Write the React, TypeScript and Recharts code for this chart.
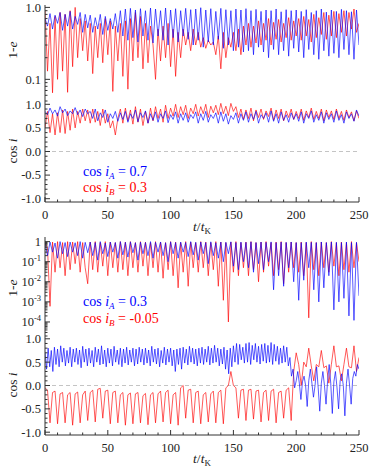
import React from "react";
import { LineChart, Line, XAxis, YAxis, ReferenceLine } from "recharts";

const FONT = "'Liberation Serif', 'Times New Roman', serif";
const BLUE = "#0000ff";
const RED = "#ff0000";
const FRAME = "#333";

// sampling of the curves (in t/t_K)
const T_STEP = 2;
const T_STEP_FAST = 1.25;

// ---- upper pair: cos iA = 0.7, cos iB = 0.3 ----
const topEccA = [
  0.7, 0.55, 0.82, 0.5, 0.78, 0.6, 0.85, 0.48, 0.8, 0.55, 0.88, 0.5, 0.75, 0.58, 0.85, 0.45, 0.8, 0.52,
  0.78, 0.45, 0.72, 0.5, 0.8, 0.42, 0.75, 0.48, 0.7, 0.5, 0.82, 0.45, 0.9,
  0.4, 0.95, 0.35, 0.97, 0.38, 0.92, 0.33, 0.96, 0.4, 0.9, 0.35, 0.98,
  0.32, 0.95, 0.4, 0.9, 0.35, 0.98, 0.3, 0.92, 0.38, 0.96, 0.33, 0.9, 0.4, 0.97, 0.36, 0.93, 0.3, 0.95,
  0.35, 0.99, 0.28, 0.92, 0.33, 0.96, 0.3, 0.88, 0.36, 0.97, 0.27, 0.93, 0.3, 0.9, 0.25, 0.95, 0.28, 0.92, 0.24, 0.96,
  0.25, 0.9, 0.22, 0.94, 0.28, 0.88, 0.24, 0.92, 0.2, 0.9, 0.26, 0.95, 0.22, 0.87, 0.25, 0.93, 0.21, 0.9, 0.27, 0.92,
  0.24, 0.88, 0.2, 0.93, 0.26, 0.85, 0.22, 0.9, 0.19, 0.95, 0.25, 0.86, 0.21, 0.92, 0.23, 0.88, 0.2, 0.94, 0.26, 0.9,
  0.22, 0.87, 0.19, 0.92, 0.3,
];
const topEccB = [
  0.9, 0.13, 0.6, 0.065, 0.75, 0.1, 0.85, 0.13, 0.8, 0.066, 0.9, 0.15, 1.0, 0.2, 0.7, 0.25, 0.65, 0.18,
  0.6, 0.12, 0.55, 0.2, 0.6, 0.17, 0.7, 0.22, 0.65, 0.068, 0.55, 0.18, 0.6,
  0.11, 0.65, 0.073, 0.7, 0.18, 0.85, 0.2, 0.75, 0.14, 0.6, 0.17, 0.55,
  0.3, 0.1, 0.5, 0.18, 0.55, 0.2, 0.6, 0.15, 0.5, 0.11, 0.45, 0.2, 0.5, 0.3, 0.45, 0.25, 0.5, 0.3,
  0.45, 0.28, 0.38, 0.27, 0.35, 0.3, 0.33, 0.22, 0.4, 0.14, 0.45, 0.2, 0.38, 0.28, 0.45, 0.25, 0.5, 0.22, 0.55, 0.3,
  0.6, 0.28, 0.55, 0.32, 0.65, 0.3, 0.6, 0.35, 0.7, 0.3, 0.62, 0.36, 0.68, 0.33, 0.6, 0.38, 0.72, 0.35, 0.65, 0.4,
  0.7, 0.35, 0.75, 0.4, 0.68, 0.33, 0.8, 0.38, 0.72, 0.42, 0.85, 0.36, 0.78, 0.4, 0.88, 0.38, 0.82, 0.45, 0.9, 0.4,
  0.85, 0.5, 0.95, 0.45, 0.6,
];
const topCosA = [
  0.85, 0.78, 0.92, 0.8, 0.88, 0.75, 0.95, 0.82, 0.9, 0.76, 0.86, 0.8, 0.93, 0.78, 0.88, 0.74, 0.9, 0.8,
  0.85, 0.7, 0.9, 0.65, 0.82, 0.72, 0.88, 0.62, 0.8, 0.7, 0.85, 0.64, 0.82,
  0.68, 0.85, 0.62, 0.8, 0.7, 0.88, 0.63, 0.82, 0.72, 0.86, 0.6, 0.8,
  0.66, 0.84, 0.62, 0.8, 0.7, 0.86, 0.61, 0.78, 0.68, 0.84, 0.6, 0.8, 0.66, 0.82, 0.62, 0.78, 0.7, 0.84,
  0.6, 0.8, 0.66, 0.85, 0.62, 0.78, 0.7, 0.82, 0.6, 0.84, 0.64, 0.8, 0.58, 0.76, 0.68, 0.82, 0.6, 0.8, 0.66, 0.84,
  0.62, 0.8, 0.68, 0.85, 0.6, 0.78, 0.7, 0.82, 0.62, 0.86, 0.64, 0.8, 0.6, 0.84, 0.66, 0.78, 0.62, 0.82, 0.68, 0.8,
  0.64, 0.84, 0.6, 0.8, 0.7, 0.86, 0.62, 0.78, 0.66, 0.84, 0.6, 0.82, 0.68, 0.8, 0.62, 0.86, 0.66, 0.78, 0.6, 0.84,
  0.7, 0.8, 0.64, 0.88, 0.75,
];
const topCosB = [
  0.5, 0.85, 0.4, 0.8, 0.35, 0.82, 0.4, 0.88, 0.38, 0.85, 0.45, 0.9, 0.5, 0.85, 0.6, 0.9, 0.65, 0.88,
  0.6, 0.9, 0.62, 0.85, 0.55, 0.9, 0.6, 0.8, 0.5, 0.65, 0.35, 0.7, 0.9,
  0.6, 0.92, 0.65, 0.88, 0.58, 0.95, 0.62, 0.9, 0.55, 0.85, 0.6, 0.92,
  0.65, 0.95, 0.7, 0.9, 0.62, 0.98, 0.7, 0.92, 0.75, 1.0, 0.72, 0.95, 0.78, 0.98, 0.7, 0.92, 0.8, 1.0,
  0.75, 0.95, 0.8, 1.0, 0.72, 0.96, 0.82, 0.98, 0.78, 1.02, 0.8, 0.96, 0.76, 1.02, 0.85, 0.95, 0.72, 0.9, 0.68, 0.88,
  0.7, 0.92, 0.65, 0.88, 0.72, 0.9, 0.68, 0.86, 0.74, 0.92, 0.66, 0.88, 0.7, 0.9, 0.65, 0.86, 0.72, 0.9, 0.68, 0.85,
  0.7, 0.9, 0.66, 0.86, 0.72, 0.92, 0.68, 0.85, 0.7, 0.9, 0.65, 0.88, 0.72, 0.86, 0.68, 0.9, 0.7, 0.85, 0.66, 0.88,
  0.72, 0.84, 0.65, 0.86, 0.7,
];

// ---- lower pair: cos iA = 0.3, cos iB = -0.05 ----
const botEccA = [
  0.9, 0.2, 0.95, 0.3, 0.85, 0.15, 1.0, 0.25, 0.9, 0.18, 0.95, 0.3, 0.88, 0.2, 1.0, 0.15, 0.92, 0.28,
  0.95, 0.2, 0.9, 0.12, 1.0, 0.25, 0.85, 0.18, 0.95, 0.3, 0.9, 0.15, 1.0,
  0.22, 0.92, 0.17, 0.98, 0.28, 0.88, 0.12, 0.95, 0.25, 0.9, 0.2, 1.0,
  0.15, 0.92, 0.3, 0.96, 0.2, 0.88, 0.1, 0.98, 0.25, 0.9, 0.15, 0.95, 0.3, 0.9, 0.18, 1.0, 0.22, 0.92,
  0.12, 0.96, 0.25, 0.9, 0.08, 0.98, 0.2, 0.88, 0.15, 0.95, 0.1, 0.92, 0.25, 0.98, 0.06, 0.9, 0.04, 0.95, 0.1, 0.92,
  0.05, 0.98, 0.03, 0.9, 0.08, 0.95, 0.04, 0.92, 0.1, 0.97, 0.004, 0.9, 0.02, 0.95, 0.006, 0.92, 0.05, 0.96, 0.01, 0.9,
  0.0012, 0.9, 0.012, 0.95, 0.05, 0.92, 0.004, 0.9, 0.001, 0.96, 0.005, 0.9, 0.02, 0.95, 0.0004, 0.92, 0.001, 0.9,
  0.0015, 0.95, 0.0002, 0.9, 0.00012, 0.92, 0.002,
];
const botEccB = [
  0.9, 0.5, 0.0006, 0.95, 0.03, 1.0, 0.05, 0.9, 0.02, 1.0, 0.04, 0.95, 0.08, 1.0, 0.03, 0.9, 0.05, 0.008,
  0.95, 0.04, 1.0, 0.03, 0.9, 0.06, 1.0, 0.02, 0.95, 0.05, 0.9, 0.03, 1.0,
  0.04, 0.95, 0.02, 1.0, 0.05, 0.9, 0.03, 1.0, 0.06, 0.95, 0.02, 0.9,
  0.05, 1.0, 0.03, 0.95, 0.015, 0.9, 0.04, 1.0, 0.02, 0.95, 0.005, 0.9, 0.03, 1.0, 0.006, 0.95, 0.05, 0.9,
  0.03, 1.0, 0.05, 0.95, 0.02, 0.9, 0.04, 1.0, 0.006, 0.95, 0.0012, 0.9, 0.0001, 0.95, 0.03, 1.0, 0.02, 0.9, 0.05, 0.95,
  0.02, 1.0, 0.04, 0.9, 0.01, 0.95, 0.03, 1.0, 0.06, 0.9, 0.02, 0.95, 0.04, 1.0, 0.008, 0.9, 0.03, 0.95, 0.05, 0.9,
  0.03, 0.95, 0.02, 0.9, 0.00016, 1.0, 0.04, 0.9, 0.02, 0.95, 0.05, 0.9, 0.03, 1.0, 0.06, 0.9, 0.02, 0.95,
  0.04, 0.9, 0.03, 1.0, 0.05, 0.9, 0.1,
];
// sampled every T_STEP_FAST
const botCosA = [
  0.7, 0.35, 0.8, 0.4, 0.75, 0.3, 0.82, 0.45, 0.78, 0.4, 0.85, 0.5, 0.8, 0.42, 0.75, 0.48, 0.82, 0.4, 0.78, 0.5,
  0.8, 0.45, 0.76, 0.38, 0.84, 0.5, 0.78, 0.42, 0.8, 0.48, 0.75, 0.4, 0.82, 0.5, 0.78, 0.44, 0.85, 0.46, 0.76, 0.4,
  0.8, 0.48, 0.78, 0.42, 0.84, 0.5, 0.76, 0.45, 0.8, 0.4, 0.78, 0.48, 0.82, 0.44, 0.76, 0.5, 0.8, 0.42, 0.78, 0.46,
  0.82, 0.5, 0.78, 0.44, 0.8, 0.48, 0.76, 0.42, 0.84, 0.5, 0.78, 0.46, 0.8, 0.4, 0.75, 0.48, 0.82, 0.44, 0.78, 0.5,
  0.8, 0.42, 0.76, 0.3, 0.78, 0.45, 0.8, 0.35, 0.82, 0.48, 0.78, 0.44, 0.84, 0.5, 0.8, 0.46, 0.78, 0.42, 0.8, 0.48,
  0.82, 0.45, 0.78, 0.5, 0.84, 0.44, 0.8, 0.48, 0.86, 0.5, 0.8, 0.42, 0.78, 0.46, 0.82, 0.35, 0.76, 0.25, 0.8, 0.4,
  0.85, 0.5, 0.9, 0.45, 0.88, 0.55, 0.82, 0.48, 0.9, 0.5, 0.92, 0.45, 0.86, 0.55, 0.9, 0.5, 0.84, 0.46, 0.88, 0.52,
  0.9, 0.48, 0.86, 0.5, 0.92, 0.45, 0.88, 0.52, 0.84, 0.45, 0.8, 0.48, 0.85, 0.5, 0.82, 0.42, 0.6, 0.2, 0.35, -0.05,
  0.1, 0.3, 0.05, -0.3, 0.08, 0.2, 0.0, -0.45, 0.1, 0.35, 0.05, -0.25, 0.0, 0.4, -0.05, -0.55, 0.05, 0.3, 0.0, -0.4,
  0.1, 0.45, 0.05, -0.6, 0.08, 0.3, -0.05, -0.5, 0.1, 0.25, 0.0, -0.65, 0.05, 0.35, 0.0, -0.4, 0.15, 0.3, 0.2, 0.45,
  0.35,
];
const botCosB = [
  -0.05, -0.1, -0.8, -0.15, -0.12, -0.82, -0.18, -0.15, -0.8, -0.2, -0.15, -0.85, -0.18, -0.14, -0.8, -0.2, -0.12, -0.75,
  -0.15, -0.1, -0.78, -0.08, -0.06, -0.7, -0.12, -0.1, -0.82, -0.15, -0.12, -0.8, -0.2,
  -0.15, -0.85, -0.2, -0.16, -0.82, -0.18, -0.15, -0.8, -0.22, -0.17, -0.84, -0.2,
  -0.15, -0.8, -0.18, -0.12, -0.78, -0.15, -0.1, -0.82, -0.2, -0.15, -0.85, -0.05, 0.0, -0.7, -0.1, -0.08, -0.8, -0.15,
  -0.12, -0.82, -0.2, -0.15, -0.78, -0.18, -0.12, -0.8, -0.15, -0.1, -0.82, -0.05, 0.0, 0.3, 0.0, -0.05, -0.7, -0.1, -0.08, -0.75,
  -0.1, -0.08, -0.72, -0.12, -0.1, -0.78, -0.15, -0.1, -0.75, -0.12, -0.08, -0.8, -0.15, -0.12, -0.7, -0.1, -0.05, -0.75, 0.3, 0.7,
  0.45, 0.0, 0.5, 0.4, 0.8, 0.42, 0.1, 0.45, 0.4, 0.75, 0.38, 0.42, 0.05, 0.45, 0.85, 0.4, 0.42, 0.1, 0.45, 0.8,
  0.4, 0.38, 0.85, 0.3, 0.6,
];

// axis ticks
const X_TICKS = [0, 10, 20, 30, 40, 50, 60, 70, 80, 90, 100, 110, 120, 130, 140, 150, 160, 170, 180, 190, 200, 210, 220, 230, 240, 250];
const X_MAJOR = [0, 50, 100, 150, 200, 250];
const COS_TICKS = Array.from({ length: 21 }, (_, i) => Math.round((-1 + i * 0.1) * 10) / 10);
const COS_MAJOR = [-1, -0.5, 0, 0.5, 1];
const ECC_TOP_TICKS = [0.05, 0.06, 0.07, 0.08, 0.09, 0.1, 0.2, 0.3, 0.4, 0.5, 0.6, 0.7, 0.8, 0.9, 1];
const ECC_TOP_MAJOR = [0.1, 1];
const ECC_BOT_MAJOR = [1e-4, 1e-3, 1e-2, 1e-1, 1];
const ECC_BOT_TICKS: number[] = [];
[-5, -4, -3, -2, -1, 0].forEach((k) => {
  for (let m = 1; m <= 9; m++) {
    const v = m * Math.pow(10, k);
    if (v >= 2e-5 && v <= 1.7) ECC_BOT_TICKS.push(v);
  }
});

const rows = (vals: number[], step: number) => vals.map((v, i) => ({ t: i * step, v }));

const isMajor = (v: number, majors: number[]) =>
  majors.some((m) => Math.abs(v - m) <= Math.abs(m) * 1e-6 + 1e-9);

type Side = "left" | "right" | "top" | "bottom";

const tickMark = (side: Side, majors: number[], label?: (v: number) => React.ReactNode) => (props: any) => {
  const { x, y, payload } = props;
  const v = payload.value as number;
  const major = isMajor(v, majors);
  const len = major ? 5 : 2.5;
  let line;
  if (side === "left") line = <line x1={x} y1={y} x2={x + len} y2={y} />;
  else if (side === "right") line = <line x1={x} y1={y} x2={x - len} y2={y} />;
  else if (side === "top") line = <line x1={x} y1={y} x2={x} y2={y + len} />;
  else line = <line x1={x} y1={y} x2={x} y2={y - len} />;
  const textStyle = { fontFamily: FONT, fontSize: 12.5, fill: "#222" };
  return (
    <g>
      <g stroke={FRAME} strokeWidth={1}>{line}</g>
      {major && label && side === "left" && (
        <text x={x - 4} y={y} dy="0.35em" textAnchor="end" style={textStyle}>{label(v)}</text>
      )}
      {major && label && side === "bottom" && (
        <text x={x} y={y + 17} textAnchor="middle" style={textStyle}>{label(v)}</text>
      )}
    </g>
  );
};

const fixed1 = (v: number) => v.toFixed(1);
const pow10 = (v: number) => {
  const k = Math.round(Math.log10(v));
  if (k === 0) return "1";
  return (
    <>
      <tspan>10</tspan>
      <tspan dy={-5} fontSize={8.5}>{k}</tspan>
    </>
  );
};

type Series = { data: { t: number; v: number }[]; color: string };

type PanelProps = {
  top: number;
  plotHeight: number;
  showX: boolean;
  log: boolean;
  domain: [number, number];
  ticks: number[];
  majors: number[];
  label: (v: number) => React.ReactNode;
  zeroLine?: boolean;
  series: Series[];
};

const PAD = 10;

const Panel = ({ top, plotHeight, showX, log, domain, ticks, majors, label, zeroLine, series }: PanelProps) => {
  const bottomH = showX ? 36 : 0;
  const common = {
    type: "number" as const,
    allowDataOverflow: true,
    interval: 0 as const,
    tickSize: 0,
    tickMargin: 0,
    tickLine: false,
    axisLine: { stroke: FRAME },
  };
  return (
    <div style={{ position: "absolute", left: 0, top: top - PAD }}>
      <LineChart width={374} height={plotHeight + bottomH + PAD + 2}
        margin={{ top: PAD, right: 15, bottom: showX ? 0 : 2, left: 0 }}>
        <XAxis xAxisId="b" dataKey="t" domain={[0, 250]} ticks={X_TICKS} height={bottomH}
          tick={tickMark("bottom", X_MAJOR, showX ? (v) => String(v) : undefined)} {...common} />
        <XAxis xAxisId="t" orientation="top" dataKey="t" domain={[0, 250]} ticks={X_TICKS} height={0}
          tick={tickMark("top", X_MAJOR)} {...common} />
        <YAxis yAxisId="l" scale={log ? "log" : "linear"} domain={domain} ticks={ticks} width={45}
          tick={tickMark("left", majors, label)} {...common} />
        <YAxis yAxisId="r" orientation="right" scale={log ? "log" : "linear"} domain={domain} ticks={ticks} width={0}
          tick={tickMark("right", majors)} {...common} />
        {zeroLine && (
          <ReferenceLine xAxisId="b" yAxisId="l" y={0} stroke="#c4c4c4" strokeDasharray="4 3" />
        )}
        {series.map((s, i) => (
          <Line key={i} xAxisId="b" yAxisId="l" data={s.data} dataKey="v" type="linear" stroke={s.color}
            strokeWidth={0.9} strokeOpacity={0.72} dot={false} isAnimationActive={false} />
        ))}
      </LineChart>
    </div>
  );
};

const base: React.CSSProperties = { position: "absolute", fontFamily: FONT, whiteSpace: "nowrap", lineHeight: 1 };
const sub: React.CSSProperties = { fontSize: 9, position: "relative", top: 3, fontStyle: "italic" };

const YTitle = ({ y, children }: { y: number; children: React.ReactNode }) => (
  <div style={{ ...base, left: 13, top: y, fontSize: 13.5, color: "#222", transform: "translate(-50%, -50%) rotate(-90deg)" }}>
    {children}
  </div>
);
const XTitle = ({ y }: { y: number }) => (
  <div style={{ ...base, left: 202, top: y, fontSize: 13.5, color: "#222", transform: "translate(-50%, -50%)" }}>
    <i>t</i>/<i>t</i><span style={{ ...sub, fontStyle: "normal" }}>K</span>
  </div>
);
const Legend = ({ y, color, who, value }: { y: number; color: string; who: string; value: string }) => (
  <div style={{ ...base, left: 83, top: y, fontSize: 14, color, transform: "translateY(-50%)" }}>
    cos <i>i</i><span style={sub}>{who}</span> = {value}
  </div>
);

export default function App() {
  return (
    <div style={{ position: "absolute", left: 0, top: 0, width: 374, height: 468, background: "#fff", overflow: "hidden" }}>
      <Panel top={5} plotHeight={96} showX={false} log domain={[0.05, 1.08]} ticks={ECC_TOP_TICKS}
        majors={ECC_TOP_MAJOR} label={fixed1}
        series={[{ data: rows(topEccB, T_STEP), color: RED }, { data: rows(topEccA, T_STEP), color: BLUE }]} />
      <Panel top={101} plotHeight={99} showX log={false} domain={[-1.07, 1.07]} ticks={COS_TICKS}
        majors={COS_MAJOR} label={fixed1} zeroLine
        series={[{ data: rows(topCosB, T_STEP), color: RED }, { data: rows(topCosA, T_STEP), color: BLUE }]} />
      <Panel top={237} plotHeight={99} showX={false} log domain={[2e-5, 1.7]} ticks={ECC_BOT_TICKS}
        majors={ECC_BOT_MAJOR} label={pow10}
        series={[{ data: rows(botEccB, T_STEP), color: RED }, { data: rows(botEccA, T_STEP), color: BLUE }]} />
      <Panel top={336} plotHeight={97} showX log={false} domain={[-1.06, 1.06]} ticks={COS_TICKS}
        majors={COS_MAJOR} label={fixed1} zeroLine
        series={[{ data: rows(botCosB, T_STEP), color: RED }, { data: rows(botCosA, T_STEP_FAST), color: BLUE }]} />

      <YTitle y={50}>1-<i>e</i></YTitle>
      <YTitle y={151}>cos <i>i</i></YTitle>
      <YTitle y={288}>1-<i>e</i></YTitle>
      <YTitle y={385}>cos <i>i</i></YTitle>
      <XTitle y={227} />
      <XTitle y={459} />

      <Legend y={172} color={BLUE} who="A" value="0.7" />
      <Legend y={188} color={RED} who="B" value="0.3" />
      <Legend y={302} color={BLUE} who="A" value="0.3" />
      <Legend y={319} color={RED} who="B" value="-0.05" />
    </div>
  );
}
